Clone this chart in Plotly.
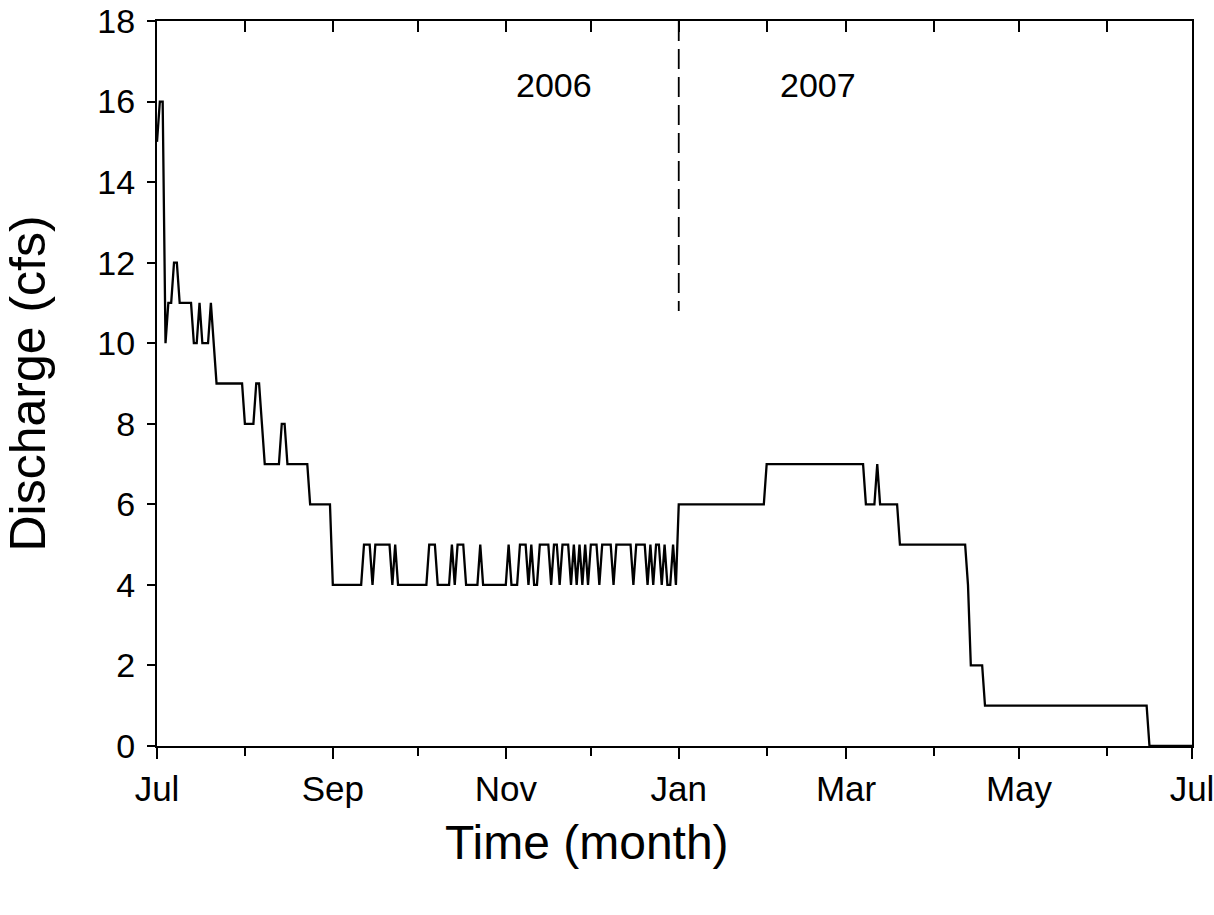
import pandas as pd
import plotly.graph_objects as go

# Daily discharge (cfs), run-length encoded, starting 2006-07-01
start_date = "2006-07-01"
run_values = [15, 16, 10, 11, 12, 11, 10, 11, 10, 11, 10, 9, 8, 9, 8, 7, 8, 7, 6,
              4, 5, 4, 5, 4, 5, 4, 5, 4, 5, 4, 5, 4, 5, 4, 5, 4, 5, 4, 5, 4, 5, 4, 5,
              4, 5, 4, 5, 4, 5, 4, 5, 4, 5, 4, 5, 4, 5, 4, 5, 4, 5, 4, 5, 4, 5, 4, 5, 4,
              6, 7, 6, 7, 6, 5, 4, 2, 1, 0]
run_lengths = [1, 2, 1, 2, 2, 5, 2, 1, 3, 1, 1, 10, 4, 2, 1, 6, 2, 8, 8,
               11, 3, 1, 6, 1, 1, 11, 3, 5, 1, 1, 3, 5, 1, 9, 1, 3, 3, 1, 1, 2, 4, 1, 2,
               1, 3, 1, 1, 1, 1, 1, 1, 1, 3, 1, 4, 1, 6, 1, 4, 1, 1, 1, 2, 1, 1, 2, 1, 1,
               31, 35, 4, 1, 7, 24, 1, 5, 58, 16]

# Year divider and labels
divider_x = ["2007-01-01", "2007-01-01"]
divider_y = [18, 10.8]
year_labels = ["2006", "2007"]
year_label_x = ["2006-11-18", "2007-02-19"]
year_label_y = [16.4, 16.4]

major_ticks = ["2006-07-01", "2006-09-01", "2006-11-01", "2007-01-01",
               "2007-03-01", "2007-05-01", "2007-07-01"]
major_labels = ["Jul", "Sep", "Nov", "Jan", "Mar", "May", "Jul"]
minor_ticks = ["2006-08-01", "2006-10-01", "2006-12-01", "2007-02-01",
               "2007-04-01", "2007-06-01"]
all_month_ticks = sorted(major_ticks + minor_ticks)
y_ticks = [0, 2, 4, 6, 8, 10, 12, 14, 16, 18]

values = []
for v, n in zip(run_values, run_lengths):
    values += [v] * n
dates = pd.date_range(start_date, periods=len(values), freq="D")

FONT = "Liberation Sans, Arial, sans-serif"

fig = go.Figure()
fig.add_trace(go.Scatter(x=dates, y=values, mode="lines",
                         line=dict(color="black", width=2.3), showlegend=False))
fig.add_trace(go.Scatter(x=pd.to_datetime(divider_x), y=divider_y, mode="lines",
                         line=dict(color="black", width=1.8, dash="20px,8px"),
                         showlegend=False))
# invisible trace for top axis
fig.add_trace(go.Scatter(x=pd.to_datetime(major_ticks), y=[None]*len(major_ticks),
                         xaxis="x2", showlegend=False, hoverinfo="skip"))

for t, xx, yy in zip(year_labels, year_label_x, year_label_y):
    fig.add_annotation(x=xx, y=yy, text=t, showarrow=False,
                       font=dict(family=FONT, size=34, color="black"))

# x-axis title
fig.add_annotation(x=0.415, y=0.0, xref="paper", yref="paper", yanchor="middle",
                   yshift=-(842 - 746), text="Time (month)", showarrow=False,
                   font=dict(family=FONT, size=48, color="black"))

xr = ["2006-07-01", "2007-07-01"]
fig.update_layout(
    width=1214, height=915,
    margin=dict(l=157, r=22, t=21, b=169),
    paper_bgcolor="white", plot_bgcolor="white",
    font=dict(family=FONT, color="black"),
    xaxis=dict(type="date", range=xr, tickvals=major_ticks, ticktext=major_labels,
               automargin=False, ticklabeloverflow="allow",
               ticks="outside", ticklen=11, tickwidth=2, tickcolor="black",
               showline=True, linecolor="black", linewidth=2, showgrid=False,
               zeroline=False, tickfont=dict(size=35, family=FONT),
               minor=dict(tickvals=minor_ticks, ticks="outside", ticklen=8,
                          tickwidth=2, tickcolor="black", showgrid=False)),
    xaxis2=dict(type="date", range=xr, overlaying="x", side="top",
                automargin=False,
                tickvals=all_month_ticks, showticklabels=False, ticks="inside",
                ticklen=11, tickwidth=2, tickcolor="black", showline=True,
                linecolor="black", linewidth=2, showgrid=False, zeroline=False),
    yaxis=dict(range=[0, 18], tickvals=y_ticks, ticks="outside", ticklen=8,
               automargin=False, ticklabeloverflow="allow",
               tickwidth=2, tickcolor="black", showline=True, linecolor="black",
               linewidth=2, mirror=True, showgrid=False, zeroline=False,
               tickfont=dict(size=34, family=FONT), ticklabelstandoff=5,
               title=dict(text="Discharge (cfs)", font=dict(size=50, family=FONT),
                          standoff=41)),
)
fig.write_html("out.html", config={"displayModeBar": False},
               post_script="document.body.style.margin='0';document.body.style.overflow='hidden';")
